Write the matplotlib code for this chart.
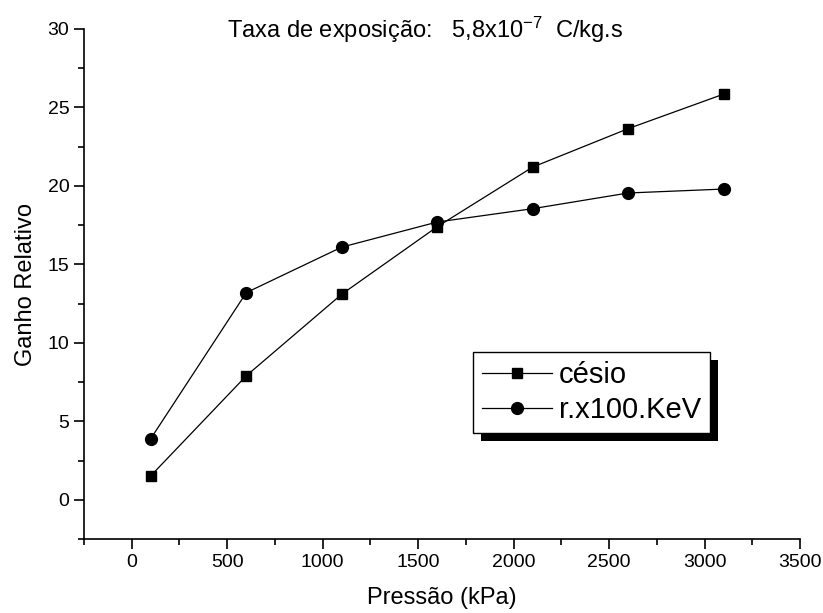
import numpy as np
from matplotlib import pyplot as plt
from matplotlib.patches import Rectangle
from matplotlib.transforms import IdentityTransform
import matplotlib.ticker as ticker

pressao = [100, 600, 1100, 1600, 2100, 2600, 3100]
cesio = [1.53, 7.9, 13.1, 17.4, 21.2, 23.65, 25.85]
rx100 = [3.9, 13.2, 16.1, 17.7, 18.55, 19.55, 19.8]

plt.rcParams['font.family'] = ['Liberation Sans', 'DejaVu Sans']
plt.rcParams['mathtext.fontset'] = 'custom'
plt.rcParams['mathtext.rm'] = 'Liberation Sans'
plt.rcParams['mathtext.it'] = 'Liberation Sans'

fig = plt.figure(figsize=(8.23, 6.13), dpi=100)
ax = fig.add_axes([84/823, 1-539/613, 716/823, 510/613])

ax.plot(pressao, cesio, color='black', lw=0.9, marker='s', ms=7.5, label='césio')
ax.plot(pressao, rx100, color='black', lw=0.9, marker='o', ms=8.5, label='r.x100.KeV')

ax.set_xlim(-250, 3500)
ax.set_ylim(-2.5, 30)
ax.xaxis.set_major_locator(ticker.MultipleLocator(500))
ax.xaxis.set_minor_locator(ticker.MultipleLocator(250))
ax.yaxis.set_major_locator(ticker.MultipleLocator(5))
ax.yaxis.set_minor_locator(ticker.MultipleLocator(2.5))

for s in ['top', 'right']:
    ax.spines[s].set_visible(False)
for s in ['left', 'bottom']:
    ax.spines[s].set_linewidth(1.2)
ax.tick_params(which='major', direction='out', length=7, width=1.2, labelsize=14)
ax.tick_params(which='minor', direction='out', length=4, width=1.2)

ax.set_xlabel('Pressão (kPa)', fontsize=17, labelpad=12)
ax.set_ylabel('Ganho Relativo', fontsize=17, labelpad=8)

fig.text(425/823, 1-30/613, r'Taxa de exposição:   5,8x10$^{-7}$  C/kg.s',
         fontsize=17, ha='center', va='center')

leg = ax.legend(loc='upper left', bbox_to_anchor=((473-84)/716, (539-352)/510),
                borderaxespad=0, fancybox=False, edgecolor='black',
                framealpha=1, fontsize=21, handlelength=2.4, handletextpad=0.25,
                borderpad=0.3, labelspacing=0.25)
leg.get_frame().set_linewidth(1.0)
leg.set_zorder(10)

# solid black drop shadow behind the legend box
fig.canvas.draw()
bb = leg.get_window_extent()
shadow = Rectangle((bb.x0 + 8, bb.y0 - 8), bb.width, bb.height,
                   transform=IdentityTransform(), facecolor='black',
                   edgecolor='none', zorder=9, clip_on=False)
ax.add_artist(shadow)

fig.savefig('out.png', dpi=100)
